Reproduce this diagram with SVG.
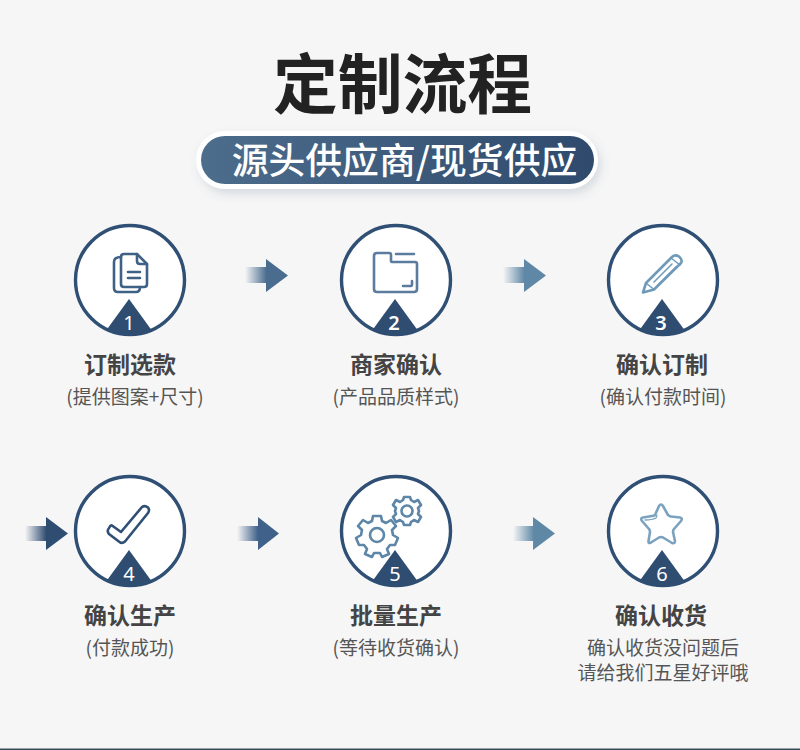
<svg xmlns="http://www.w3.org/2000/svg" width="800" height="750" viewBox="0 0 800 750">
<style>
text{font-family:"Noto Sans CJK SC","Noto Sans",sans-serif;text-anchor:middle}
.ring{fill:#fff;stroke:#2f4f74;stroke-width:3.4}
.tri{fill:#2f4c71}
.num{font-family:"Noto Sans","Open Sans",sans-serif;font-size:20px;fill:#fff}
.lab{font-size:23px;font-weight:700;fill:#444}
.sub{font-size:19px;fill:#555}
.ic{fill:none;stroke-width:2.6;stroke-linejoin:round;stroke-linecap:round}
</style>
<defs>
<linearGradient id="pill" x1="0" x2="1" y1="0" y2="0"><stop offset="0" stop-color="#4d6d8d"/><stop offset="1" stop-color="#2f4a6c"/></linearGradient>
<linearGradient id="a1" gradientUnits="userSpaceOnUse" x1="245" x2="288" y1="0" y2="0"><stop offset="0" stop-color="#4a6d8f" stop-opacity="0"/><stop offset=".5" stop-color="#4a6d8f"/></linearGradient>
<linearGradient id="a2" gradientUnits="userSpaceOnUse" x1="503" x2="546" y1="0" y2="0"><stop offset="0" stop-color="#5f88a6" stop-opacity="0"/><stop offset=".5" stop-color="#5f88a6"/></linearGradient>
<linearGradient id="a3" gradientUnits="userSpaceOnUse" x1="25" x2="68" y1="0" y2="0"><stop offset="0" stop-color="#2f4c71" stop-opacity="0"/><stop offset=".5" stop-color="#2f4c71"/></linearGradient>
<linearGradient id="a4" gradientUnits="userSpaceOnUse" x1="237" x2="279" y1="0" y2="0"><stop offset="0" stop-color="#40628a" stop-opacity="0"/><stop offset=".5" stop-color="#40628a"/></linearGradient>
<linearGradient id="a5" gradientUnits="userSpaceOnUse" x1="513" x2="555" y1="0" y2="0"><stop offset="0" stop-color="#5f88a6" stop-opacity="0"/><stop offset=".5" stop-color="#5f88a6"/></linearGradient>
<filter id="sh" x="-10%" y="-40%" width="120%" height="200%"><feDropShadow dx="3" dy="5" stdDeviation="5" flood-color="#5a6f8a" flood-opacity=".2"/></filter>
<clipPath id="c"><circle cx="0" cy="0" r="55.5"/></clipPath>
<polygon id="t" points="-1,19 -38,70 36,70" clip-path="url(#c)"/>
</defs>
<rect width="800" height="750" fill="#f6f6f6"/>
<rect y="748.500" width="800" height="1.500" fill="#3a4a5a"/>
<text id="title" x="402.500" y="108" font-size="64.800" font-weight="700" fill="#222">定制流程</text>
<g id="badge">
<rect x="196" y="131" width="402" height="58" rx="29" fill="#fff" filter="url(#sh)"/>
<rect x="201" y="136" width="393" height="48" rx="24" fill="url(#pill)"/>
<text x="404.500" y="174" font-size="36.800" font-weight="500" fill="#fff">源头供应商/现货供应</text>
</g>
<g id="connectors">
<path fill="url(#a1)" d="M245 267H266V259L288 275.500L266 292V283H245Z"/>
<path fill="url(#a2)" d="M503 267H524V259L546 275.500L524 292V283H503Z"/>
<path fill="url(#a3)" d="M25 526H46V517L68 533.500L46 550V541H25Z"/>
<path fill="url(#a4)" d="M237 526H258V517L279 533.500L258 550V541H237Z"/>
<path fill="url(#a5)" d="M513 526H533V517L555 533.500L533 550V541H513Z"/>
</g>
<g id="step1">
<circle class="ring" cx="130" cy="280" r="54.500"/>
<g transform="translate(130 280)"><use href="#t" class="tri"/></g>
<text class="num" x="129" y="330">1</text>
<g class="ic" stroke="#3f6185">
<path d="M124 254H137L147 264V284Q147 287 144 287H124Q121 287 121 284V257Q121 254 124 254Z"/>
<path d="M121 257Q114 257 114 262V288Q114 292 118 292H136Q140 292 140 287"/>
<path d="M137 254V261Q137 264 140 264H147"/>
<path d="M128 272H140M128 278H140"/>
</g>
</g>
<g id="step2">
<circle class="ring" cx="396" cy="280" r="54.500"/>
<g transform="translate(396 280)"><use href="#t" class="tri"/></g>
<text class="num" x="394" y="330" font-weight="600">2</text>
<g class="ic" stroke="#5b7c9e">
<path d="M374 256Q374 253 377 253H389Q391 253 391 255V261Q391 262 393 262H415Q417 262 417 264V289Q417 292 414 292H377Q374 292 374 289Z"/>
<path d="M396 254H414M403 286H411Q412 286 412 284V281"/>
</g>
</g>
<g id="step3">
<circle class="ring" cx="663" cy="280" r="54.500"/>
<g transform="translate(663 280)"><use href="#t" class="tri"/></g>
<text class="num" x="661" y="330" font-weight="600">3</text>
<g class="ic" stroke="#6f9aba">
<path d="M643 292.500L646 283L672 257Q675 254 679 256.500Q683 260 681 263L654 289.500Z"/>
<path d="M646 283L654 289.500M651 278L668 260.500M654 282L672 264M658 285L676 267M671 258L680 265" stroke-width="1.500"/>
</g>
</g>
<g id="step4">
<circle class="ring" cx="130" cy="531" r="54.500"/>
<g transform="translate(130 531)"><use href="#t" class="tri"/></g>
<text class="num" x="129" y="581">4</text>
<path class="ic" stroke="#2f4f74" d="M112 525.500L121 532L142 507Q145 505 148 507.500Q150 510 148 513L125 541.500Q122 544 119.500 542L109 534Q106.500 531 109 528Q110.500 525 112 525.500Z"/>
</g>
<g id="step5">
<circle class="ring" cx="396" cy="531" r="54.500"/>
<g transform="translate(396 531)"><use href="#t" class="tri"/></g>
<text class="num" x="395" y="581">5</text>
<g class="ic" stroke="#5d86a8" stroke-width="2.300" fill="none">
<circle cx="377" cy="535" r="7"/>
<path d="M373 516H381L382 521L386 523L391 520L396 526L392 530L393 535L398 538L395 545L390 545L387 549L389 554L382 557L380 553L374 553L372 557L365 554L367 549L364 545L359 545L356 538L361 535L362 530L358 526L363 520L368 523L372 521Z"/>
<circle cx="407" cy="511" r="5.500"/>
<path d="M404 497H410L411 500L414 502L418 500L421 505L418 508L419 511L418 514L421 517L418 522L414 520L411 522L410 525H404L403 522L400 520L396 522L393 517L396 514L395 511L396 508L393 505L396 500L400 502L403 500Z"/>
</g>
</g>
<g id="step6">
<circle class="ring" cx="663" cy="531" r="54.500"/>
<g transform="translate(663 531)"><use href="#t" class="tri"/></g>
<text class="num" x="662" y="581">6</text>
<g class="ic" stroke="#7ba3c0">
<path d="M659 506Q661 503 663 506L668 515Q669 516 671 516.500L680 517.500Q683 518 681 521L674 529Q673 530 673 532L675 541Q675 544 672 543L663 537.500Q661 536.500 659 537.500L651 542.500Q648 544 648.500 541L650 532Q650 530 649 529L642 521Q640 518 643 517.500L652 516Q654 516 655 515Z"/>
<path d="M645 520Q652 520 656 518L657 515" stroke-width="1.300"/>
</g>
</g>
<g id="labels">
<text class="lab" x="130" y="373">订制选款</text><text class="sub" x="135" y="404">(提供图案+尺寸)</text>
<text class="lab" x="396" y="373">商家确认</text><text class="sub" x="396" y="404">(产品品质样式)</text>
<text class="lab" x="662" y="373">确认订制</text><text class="sub" x="663" y="404">(确认付款时间)</text>
<text class="lab" x="130" y="624">确认生产</text><text class="sub" x="130" y="655">(付款成功)</text>
<text class="lab" x="396" y="624">批量生产</text><text class="sub" x="396" y="655">(等待收货确认)</text>
<text class="lab" x="661" y="624">确认收货</text><text class="sub" x="663" y="655">确认收货没问题后</text><text class="sub" x="663" y="680">请给我们五星好评哦</text>
</g>
</svg>
